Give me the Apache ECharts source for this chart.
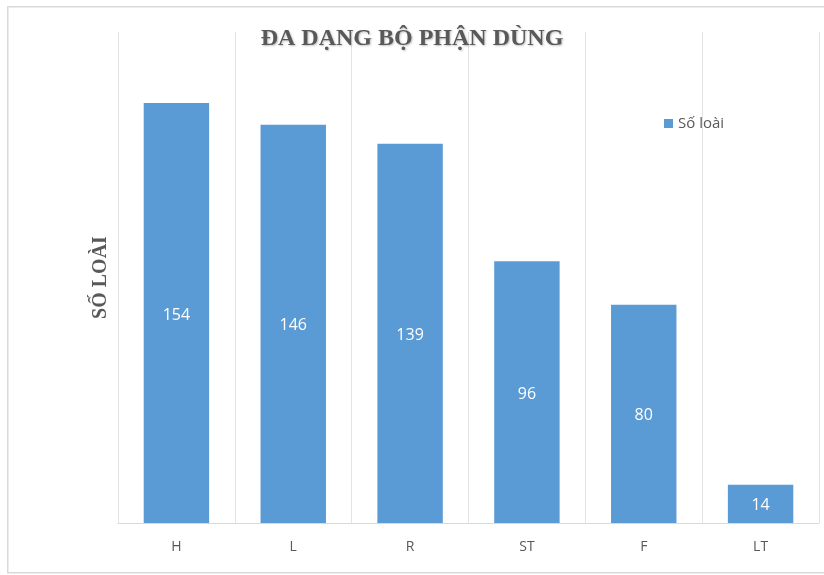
<!DOCTYPE html>
<html>
<head>
<meta charset="utf-8">
<script src="https://cdn.jsdelivr.net/npm/echarts@6/dist/echarts.min.js"></script>
<style>html,body{margin:0;padding:0;background:#fff;}#c{width:824px;height:575px;}</style>
</head>
<body>
<div id="c"></div>
<script>
const categories = ['H', 'L', 'R', 'ST', 'F', 'LT'];
const soLoai = [154, 146, 139, 96, 80, 14];
const seriesName = 'Số loài';
const titleText = 'ĐA DẠNG BỘ PHẬN DÙNG';
const yAxisName = 'SỐ LOÀI';

const chart = echarts.init(document.getElementById('c'));
chart.setOption({
  animation: false,
  backgroundColor: '#fff',
  graphic: [{
    type: 'rect', left: 7, top: 6, z: -1,
    shape: { width: 830, height: 566 },
    style: { fill: '#fff', stroke: '#d9d9d9', lineWidth: 1.5 }
  }],
  title: {
    text: titleText,
    left: 'center', top: 22,
    textStyle: {
      fontFamily: '"Liberation Serif", serif', fontWeight: 'bold', fontSize: 24,
      color: '#595959', textShadowColor: 'rgba(0,0,0,0.25)', textShadowBlur: 2,
      textShadowOffsetX: 1, textShadowOffsetY: 1
    }
  },
  legend: {
    data: [seriesName], left: 659, top: 111, icon: 'rect', itemWidth: 9, itemHeight: 9, itemGap: 5,
    textStyle: { fontFamily: '"Open Sans", sans-serif', fontSize: 15, color: '#595959' }
  },
  grid: { left: 118, right: 5, top: 32, bottom: 52 },
  xAxis: {
    type: 'category', data: categories,
    axisLine: { lineStyle: { color: '#d9d9d9' } },
    axisTick: { show: false },
    axisLabel: { color: '#595959', fontSize: 14, margin: 17, fontFamily: '"Open Sans", sans-serif' },
    splitLine: { show: true, interval: 0, lineStyle: { color: '#e3e3e3' } }
  },
  yAxis: {
    type: 'value', min: 0, max: 180,
    name: yAxisName, nameLocation: 'middle', nameGap: 7, nameRotate: 90,
    nameTextStyle: { fontFamily: '"Liberation Serif", serif', fontWeight: 'bold', fontSize: 20, color: '#595959' },
    axisLine: { show: false }, axisTick: { show: false }, axisLabel: { show: false },
    splitLine: { show: false }
  },
  series: [{
    name: seriesName, type: 'bar', data: soLoai, barCategoryGap: '44%',
    itemStyle: { color: '#5B9BD5' },
    label: { show: true, position: 'inside', offset: [0, 2], color: '#fff', fontSize: 16, fontFamily: '"Open Sans", sans-serif' }
  }]
});
</script>
</body>
</html>
